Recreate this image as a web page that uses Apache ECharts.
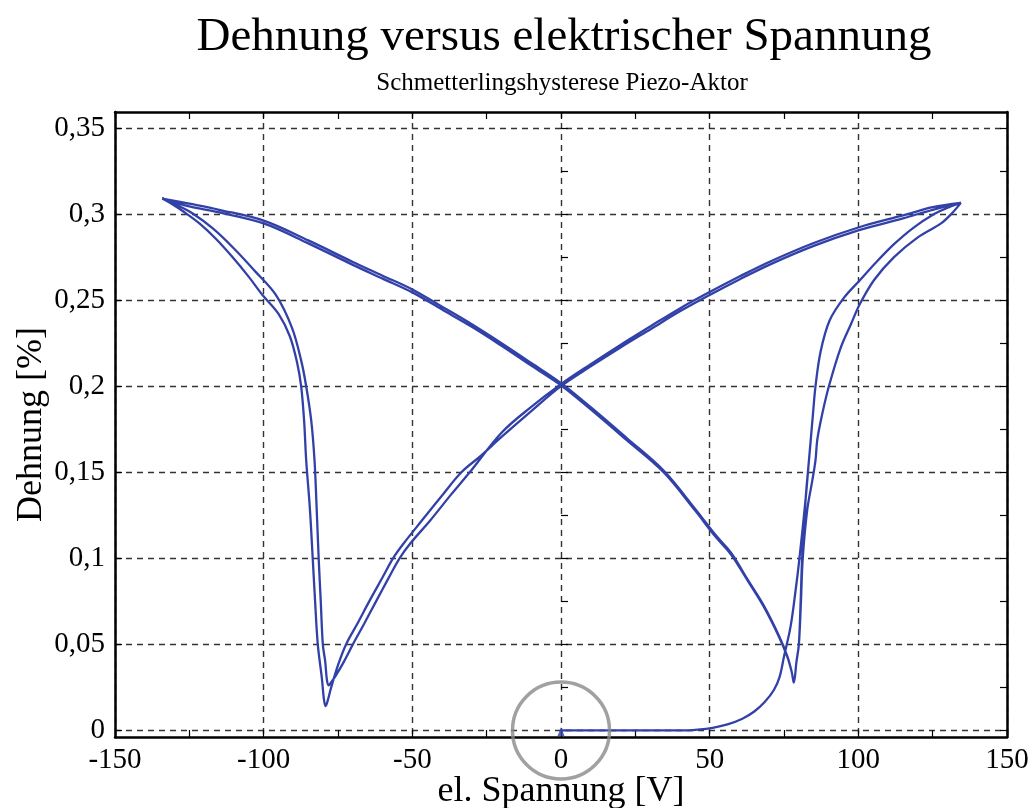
<!DOCTYPE html>
<html>
<head>
<meta charset="utf-8">
<script src="https://cdn.jsdelivr.net/npm/echarts@6/dist/echarts.min.js"></script>
<style>
  html, body { margin: 0; padding: 0; background: #fff; }
  #chart { width: 1034px; height: 808px; }
</style>
</head>
<body>
<div id="chart"></div>
<script>
// Butterfly hysteresis of a piezo actuator: strain [%] versus voltage [V]

const titleText = 'Dehnung versus elektrischer Spannung';
const subtitleText = 'Schmetterlingshysterese Piezo-Aktor';
const xName = 'el. Spannung [V]';
const yName = 'Dehnung [%]';

const xTicks = [-150, -100, -50, 0, 50, 100, 150];
const yTicks = [0, 0.05, 0.1, 0.15, 0.2, 0.25, 0.3, 0.35];
const yMinorTicks = [0, 0.025, 0.05, 0.075, 0.1, 0.125, 0.15, 0.175, 0.2,
                     0.225, 0.25, 0.275, 0.3, 0.325, 0.35];

// first loading from 0 V up to the positive maximum
const initialLoad = [
  [0, 0], [10, 0], [20, 0], [30, 0], [40, 0], [46, 0.0005], [51, 0.0015],
  [56, 0.0035], [61, 0.0068], [65, 0.011], [68.5, 0.0165], [71.6, 0.0235],
  [73.5, 0.031], [75, 0.0429], [77.2, 0.0603], [78.8, 0.08], [80.2, 0.1],
  [82.3, 0.135], [83.4, 0.157], [84.0, 0.169], [84.8, 0.185], [85.6, 0.2],
  [87.3, 0.22], [90.3, 0.238], [95, 0.251], [100.6, 0.2617], [106, 0.272],
  [112, 0.2825], [118.5, 0.292], [125.5, 0.3], [130.5, 0.304], [134.5, 0.3065]
];

// first full cycle: +max -> -max -> +max
const cycle1 = [
  [134.5, 0.3065], [125, 0.3025], [115, 0.2975], [100, 0.2905], [85, 0.2815],
  [70, 0.2705], [60, 0.262], [50, 0.253], [40, 0.2435], [30, 0.233],
  [20, 0.2225], [10, 0.2115], [0, 0.2], [-10, 0.1855], [-20, 0.1705],
  [-27, 0.1595], [-33.5, 0.15], [-40, 0.1365], [-47, 0.1215], [-53, 0.1085],
  [-56.5, 0.1], [-60, 0.089], [-64.5, 0.075], [-68.5, 0.062], [-72.3, 0.05],
  [-75, 0.038], [-77.3, 0.025], [-78.6, 0.0165], [-79.2, 0.0142], [-79.8, 0.019],
  [-80.4, 0.03], [-81.8, 0.05], [-82.7, 0.075], [-83.5, 0.1], [-84.5, 0.13],
  [-85.7, 0.157], [-86.4, 0.18], [-87.4, 0.2], [-88.8, 0.214], [-91.2, 0.229],
  [-95, 0.242], [-100.4, 0.253], [-105, 0.2635], [-110.5, 0.275], [-116, 0.2855],
  [-121.7, 0.2947], [-127, 0.3015], [-131, 0.306], [-134.1, 0.309],
  [-125, 0.3045], [-115, 0.301], [-100, 0.2946], [-85, 0.283], [-70, 0.2705],
  [-60, 0.2625], [-50, 0.2545], [-40, 0.2445], [-30, 0.2345], [-20, 0.2235],
  [-10, 0.212], [0, 0.2005], [10, 0.1865], [22, 0.1688], [34.5, 0.15],
  [45, 0.128], [52, 0.1125], [55.9, 0.105], [58.1, 0.1], [63, 0.0865],
  [68.2, 0.0719], [73.3, 0.0545], [76.1, 0.0429], [77.6, 0.034], [78.3, 0.0278],
  [79.2, 0.04], [80.0, 0.05], [80.6, 0.075], [81.1, 0.1], [82.3, 0.135],
  [83.4, 0.157], [84.0, 0.169], [84.8, 0.185], [85.6, 0.2], [87.3, 0.22],
  [90.3, 0.238], [95, 0.251], [100.6, 0.2617], [106, 0.272], [112, 0.2825],
  [118.5, 0.292], [125.5, 0.3], [130.5, 0.304], [134.5, 0.3065]
];

// second full cycle
const cycle2 = [
  [134.5, 0.3065], [125, 0.304], [115, 0.2992], [100, 0.2922], [85, 0.2832],
  [70, 0.2722], [60, 0.2637], [50, 0.2547], [40, 0.2452], [30, 0.2347],
  [20, 0.224], [10, 0.2128], [0, 0.2012], [-10, 0.188], [-20, 0.173],
  [-30.7, 0.15], [-37, 0.137], [-44, 0.122], [-50.5, 0.109], [-54.3, 0.1],
  [-58, 0.0885], [-62.2, 0.075], [-66.2, 0.062], [-70, 0.05], [-73, 0.04],
  [-75.7, 0.032], [-77.5, 0.0275], [-78.1, 0.0262], [-78.7, 0.029],
  [-79.3, 0.04], [-80.1, 0.05], [-80.8, 0.075], [-81.5, 0.1], [-82.2, 0.13],
  [-82.9, 0.157], [-84, 0.18], [-85.7, 0.2], [-87.4, 0.215], [-90.5, 0.234],
  [-95.9, 0.253], [-103, 0.267], [-110, 0.28], [-117, 0.2915], [-124, 0.3005],
  [-130, 0.306], [-134.1, 0.309],
  [-125, 0.306], [-115, 0.3025], [-100, 0.2962], [-85, 0.2847], [-70, 0.2722],
  [-60, 0.2642], [-50, 0.2562], [-40, 0.2462], [-30, 0.236], [-20, 0.225],
  [-10, 0.2135], [0, 0.2018], [10, 0.1878], [22, 0.17], [34.5, 0.151],
  [45, 0.129], [52, 0.1135], [55.9, 0.106], [58.1, 0.101], [63, 0.087],
  [68.2, 0.0725], [73.3, 0.055], [76.1, 0.0432], [77.6, 0.034], [78.3, 0.0278],
  [79.2, 0.04], [80.0, 0.05], [80.7, 0.075], [81.3, 0.1], [82.8, 0.128],
  [84.5, 0.145], [85.6, 0.157], [86.2, 0.169], [88.0, 0.185], [90.1, 0.2],
  [94, 0.222], [97.5, 0.236], [100.6, 0.248], [105.3, 0.2617], [112, 0.275],
  [120, 0.2865], [127.8, 0.2946], [131.5, 0.3005], [134.5, 0.3065]
];

const startPoint = [[0, 0]];

const serif = 'Liberation Serif, Times New Roman, serif';
const lineBlue = '#3241a8';
const frame = { lineStyle: { color: '#000', width: 2.5 } };
const gridDash = { show: true, lineStyle: { color: '#333', width: 1.4, type: [6, 5] } };
const tickStyle = { color: '#000', width: 1.2 };
const yMin = -0.0038, yMax = 0.3593;

const fmtComma = v => String(Math.round(v * 100) / 100).replace('.', ',');

const chart = echarts.init(document.getElementById('chart'), null, { renderer: 'canvas' });

chart.setOption({
  animation: false,
  backgroundColor: '#fff',
  title: [
    {
      text: titleText, left: 559, top: 9, textAlign: 'center',
      textStyle: { fontFamily: serif, fontSize: 47, fontWeight: 'normal', color: '#000' }
    },
    {
      text: subtitleText, left: 557, top: 66, textAlign: 'center',
      textStyle: { fontFamily: serif, fontSize: 25, fontWeight: 'normal', color: '#000' }
    }
  ],
  grid: { left: 115, right: 27, top: 112, bottom: 71, containLabel: false, outerBoundsMode: 'none' },
  xAxis: [
    {
      type: 'value', position: 'bottom', min: xTicks[0], max: xTicks[xTicks.length - 1], interval: 50,
      name: xName, nameLocation: 'middle', nameGap: 37, nameMoveOverlap: false,
      nameTextStyle: { fontFamily: serif, fontSize: 36, color: '#000' },
      axisLine: { show: true, onZero: false, ...frame },
      axisTick: { show: true, inside: true, length: 7, lineStyle: tickStyle },
      minorTick: { show: true, splitNumber: 2, length: 7, lineStyle: tickStyle },
      axisLabel: { fontFamily: serif, fontSize: 29, color: '#000', margin: 9 },
      splitLine: gridDash
    },
    {
      type: 'value', position: 'top', min: xTicks[0], max: xTicks[xTicks.length - 1], interval: 50,
      axisLine: { show: true, onZero: false, ...frame },
      axisTick: { show: true, inside: true, length: 7, lineStyle: tickStyle },
      minorTick: { show: true, splitNumber: 2, length: 7, lineStyle: tickStyle },
      axisLabel: { show: false },
      splitLine: { show: false }
    }
  ],
  yAxis: [
    {
      type: 'value', position: 'left', min: yMin, max: yMax, splitNumber: 7,
      name: yName, nameLocation: 'middle', nameGap: 65, nameRotate: 90, nameMoveOverlap: false,
      nameTextStyle: { fontFamily: serif, fontSize: 36, color: '#000' },
      axisLine: { show: true, onZero: false, ...frame },
      axisTick: { show: true, inside: true, length: 7, customValues: yTicks, lineStyle: tickStyle },
      axisLabel: { fontFamily: serif, fontSize: 29, color: '#000', margin: 10, customValues: yTicks, formatter: fmtComma },
      splitLine: gridDash
    },
    {
      type: 'value', position: 'left', min: yMin, max: yMax,
      axisLine: { show: false },
      axisTick: { show: true, inside: true, length: 7, customValues: yMinorTicks, lineStyle: tickStyle },
      axisLabel: { show: false },
      splitLine: { show: false }
    },
    {
      type: 'value', position: 'right', min: yMin, max: yMax,
      axisLine: { show: true, onZero: false, ...frame },
      axisTick: { show: true, inside: true, length: 7, customValues: yMinorTicks, lineStyle: tickStyle },
      axisLabel: { show: false },
      splitLine: { show: false }
    }
  ],
  series: [
    {
      name: 'Hysterese', type: 'line', xAxisIndex: 0, yAxisIndex: 0,
      data: [...initialLoad, ...cycle1, ...cycle2],
      showSymbol: false, smooth: 0.35, clip: true,
      lineStyle: { color: lineBlue, width: 2.3 },
      emphasis: { disabled: true }, z: 3
    },
    {
      name: 'Start', type: 'scatter', xAxisIndex: 0, yAxisIndex: 0,
      data: startPoint, symbol: 'triangle', symbolSize: [7, 9], symbolOffset: [0, 1],
      itemStyle: { color: lineBlue }, clip: false, z: 4,
      emphasis: { disabled: true }
    },
    {
      name: 'Markierung', type: 'scatter', xAxisIndex: 0, yAxisIndex: 0,
      data: startPoint, symbol: 'circle', symbolSize: 97,
      itemStyle: { color: 'rgba(0,0,0,0)', borderColor: '#8a8a8a', borderWidth: 3.5 },
      clip: false, z: 5, silent: true,
      emphasis: { disabled: true }
    }
  ]
});
</script>
</body>
</html>
